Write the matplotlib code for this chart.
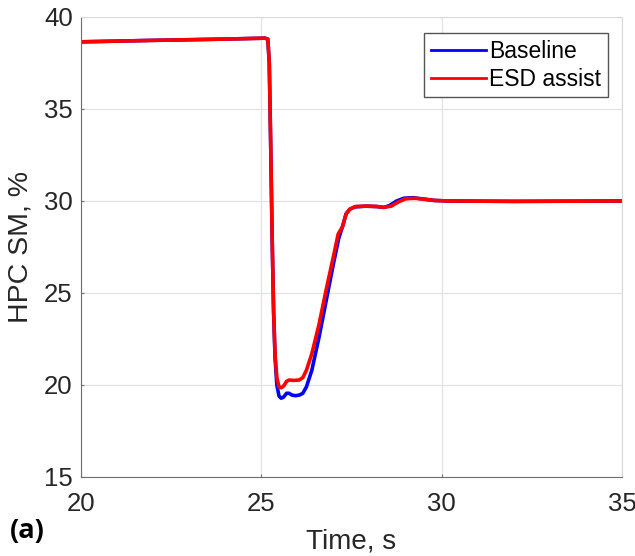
import matplotlib.pyplot as plt

# time, s
t_base = [20.0, 22.0, 24.0, 25.1, 25.18, 25.22, 25.26, 25.30, 25.34, 25.38, 25.43,
          25.49, 25.55, 25.62, 25.70, 25.77, 25.85, 25.95, 26.05, 26.15, 26.25,
          26.40, 26.60, 26.80, 27.00, 27.15, 27.25, 27.35, 27.45, 27.60, 27.90,
          28.20, 28.40, 28.55, 28.75, 28.95, 29.20, 29.45, 29.80, 30.20, 32.0, 35.0]
sm_base = [38.65, 38.73, 38.80, 38.85, 38.80, 37.5, 33.0, 28.0, 24.0, 21.5, 20.0,
           19.4, 19.28, 19.35, 19.55, 19.55, 19.45, 19.42, 19.45, 19.55, 19.9,
           20.8, 22.6, 24.6, 26.6, 28.0, 28.6, 29.3, 29.55, 29.68, 29.72,
           29.7, 29.65, 29.75, 30.0, 30.15, 30.18, 30.12, 30.03, 30.0, 29.98, 30.0]

t_esd = [20.0, 22.0, 24.0, 25.1, 25.18, 25.22, 25.26, 25.30, 25.34, 25.38, 25.43,
         25.49, 25.55, 25.62, 25.70, 25.77, 25.90, 26.05, 26.15, 26.25, 26.40,
         26.60, 26.80, 27.00, 27.13, 27.25, 27.35, 27.45, 27.60, 27.90, 28.20,
         28.40, 28.60, 28.80, 29.00, 29.25, 29.50, 29.80, 30.20, 32.0, 35.0]
sm_esd = [38.65, 38.73, 38.80, 38.85, 38.80, 37.5, 33.0, 28.0, 24.0, 21.7, 20.4,
          19.9, 19.85, 19.95, 20.2, 20.27, 20.25, 20.27, 20.4, 20.8, 21.7,
          23.3, 25.2, 27.0, 28.2, 28.6, 29.3, 29.55, 29.7, 29.72, 29.7,
          29.66, 29.72, 29.95, 30.12, 30.15, 30.1, 30.03, 30.0, 29.98, 30.0]

x_ticks = [20, 25, 30, 35]
y_ticks = [15, 20, 25, 30, 35, 40]

plt.rcParams['font.family'] = ['Liberation Sans', 'DejaVu Sans']

fig = plt.figure(figsize=(6.35, 5.56), dpi=100)
ax = fig.add_axes([81 / 635, 1 - 477 / 556, (622 - 81) / 635, (477 - 17) / 556])

ax.plot(t_base, sm_base, color=(0, 0, 1), lw=2.6, label='Baseline')
ax.plot(t_esd, sm_esd, color=(1, 0, 0), lw=2.6, label='ESD assist')

ax.set_xlim(20, 35)
ax.set_ylim(15, 40)
ax.set_xticks(x_ticks)
ax.set_yticks(y_ticks)
ax.grid(True, color='#e3e3e3', lw=0.9)
ax.set_axisbelow(True)
ax.tick_params(direction='in', length=2.5, width=0.8, labelsize=18.5,
               colors='#262626')
ax.tick_params(axis='x', pad=11, color='#6e6e6e')
ax.tick_params(axis='y', pad=6, color='#6e6e6e')
for side in ['left', 'bottom']:
    ax.spines[side].set_color('#6e6e6e')
for side in ['top', 'right']:
    ax.spines[side].set_color('#d9d9d9')

ax.set_xlabel('Time, s', fontsize=20, color='#262626', va='center')
ax.set_ylabel('HPC SM, %', fontsize=20.5, color='#262626', va='center')
ax.xaxis.set_label_coords(0.5, (477 - 542) / 460)
ax.yaxis.set_label_coords((20 - 81) / 541, 0.5)

leg = ax.legend(loc='upper right', bbox_to_anchor=(0.974, 0.965), fontsize=16.5,
                handlelength=2.4, handletextpad=0.15, borderpad=0.3,
                labelspacing=0.2, fancybox=False, framealpha=1, borderaxespad=0)
leg.get_frame().set_edgecolor('#555555')
leg.get_frame().set_linewidth(1.0)
for line in leg.get_lines():
    line.set_linewidth(2.0)

fig.text(10 / 635, 1 - 531 / 556, '(a)', fontsize=19.5, fontweight='bold',
         family=['Open Sans', 'DejaVu Sans'], va='center', ha='left')

fig.savefig('out.png', dpi=100)
